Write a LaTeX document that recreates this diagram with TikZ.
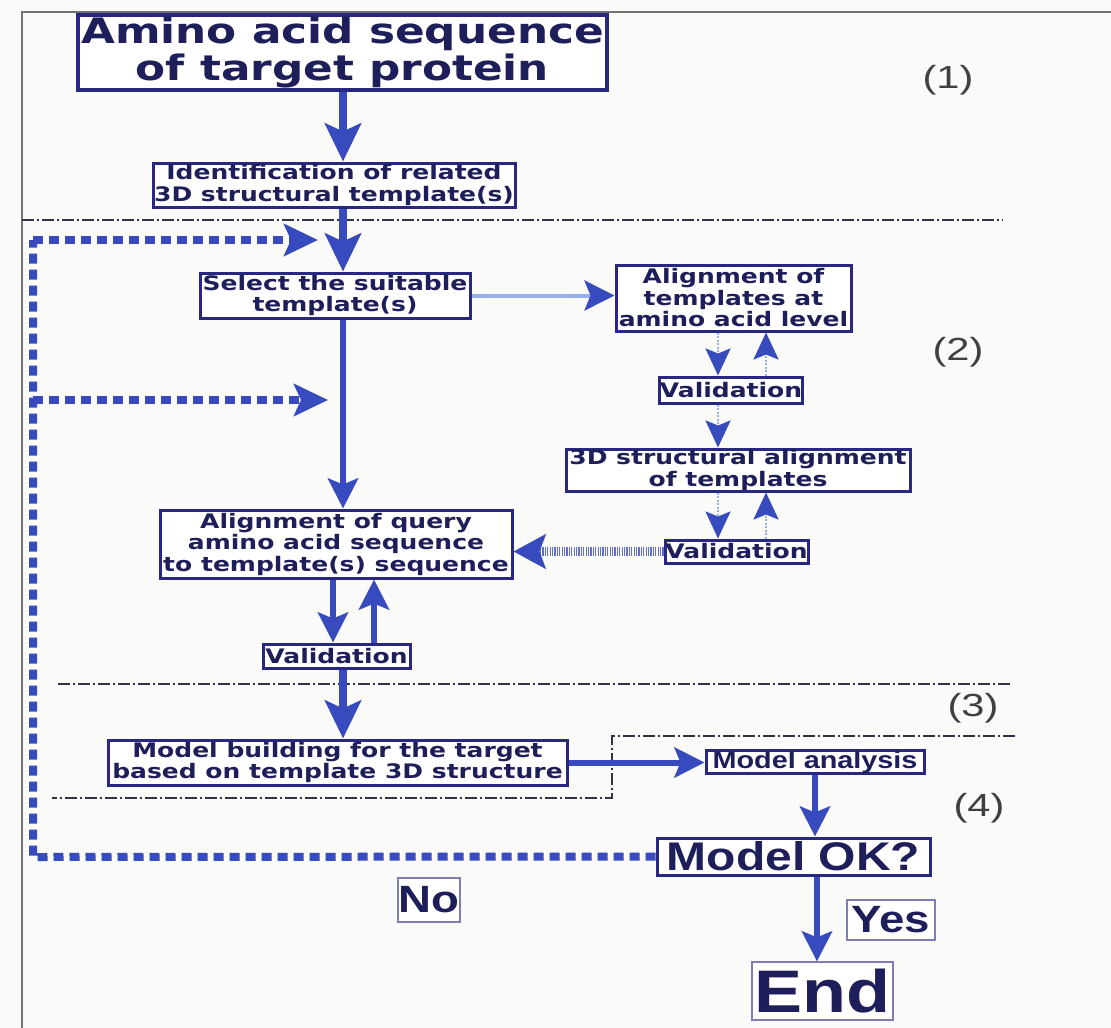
\documentclass[tikz,border=0pt]{standalone}
\usepackage{fontspec}
\setmainfont{DejaVu Sans}
\newfontfamily\bfw[FakeStretch=1.25]{DejaVu Sans}
\newfontfamily\narrow[FakeStretch=1.2]{Liberation Sans}
\newfontfamily\labfont[FakeStretch=1.3]{Liberation Sans}
\usetikzlibrary{arrows.meta}
\definecolor{boxc}{RGB}{40,40,130}
\definecolor{txtc}{RGB}{30,30,90}
\definecolor{arr}{RGB}{55,75,190}
\definecolor{lightarr}{RGB}{150,175,235}
\definecolor{secc}{RGB}{50,50,70}
\definecolor{bgc}{RGB}{250,250,248}
\tikzset{
  box/.style={draw=boxc, line width=3pt, fill=white, inner sep=0pt, align=center, text=txtc,
    font=\bfw\bfseries\fontsize{20}{21.5}\selectfont},
  bigbox/.style={box, line width=4pt, font=\bfw\bfseries\fontsize{35}{37}\selectfont},
  nbox/.style={draw=boxc, line width=3pt, fill=white, inner sep=0pt, text=txtc,
    font=\narrow\bfseries\fontsize{24}{24}\selectfont},
  thinbox/.style={draw=boxc!60, line width=1.2pt, fill=white, inner sep=0pt, text=txtc,
    font=\narrow\bfseries\fontsize{38}{38}\selectfont},
  bigarr/.style={draw=arr, line width=8pt, -{Stealth[length=38pt,width=36pt,inset=8pt]}},
  medarr/.style={draw=arr, line width=6pt, -{Stealth[length=30pt,width=30pt,inset=6pt]}},
  smallarr/.style={draw=lightarr, line width=2.5pt, dash pattern=on 2pt off 1.5pt,
    -{Stealth[length=27pt,width=25pt,inset=5pt,color=arr]}},
  lightlong/.style={draw=lightarr, line width=4pt,
    -{Stealth[length=30pt,width=30pt,inset=6pt,color=arr]}},
  hatcharr/.style={draw=arr!80, line width=9pt, dash pattern=on 1.2pt off 1.2pt,
    -{Stealth[length=32pt,width=34pt,inset=6pt,color=arr]}},
  fb/.style={draw=arr, line width=8pt, dash pattern=on 10pt off 6pt},
  fbarr/.style={fb, -{Stealth[length=34pt,width=32pt,inset=7pt]}},
  secline/.style={draw=secc, line width=1.8pt, dash pattern=on 12pt off 3pt on 2pt off 3pt},
  lab/.style={font=\labfont\fontsize{32}{32}\selectfont, text=black!75, inner sep=0pt}
}
\begin{document}
\begin{tikzpicture}[x=1pt,y=-1pt]
\useasboundingbox (0,0) rectangle (1111,1028);
\fill[bgc] (0,0) rectangle (1111,1028);
\draw[black!55, line width=1.5pt] (22,1028) -- (22,12) -- (1111,12);

% section lines
\coordinate (s1a) at (22,220); \coordinate (s1b) at (1003,220);
\coordinate (s2a) at (58,684); \coordinate (s2b) at (1010,684);
\coordinate (s3a) at (1015,736); \coordinate (s3b) at (612,736);
\coordinate (s3c) at (612,798); \coordinate (s3d) at (52,798);
\draw[secline] (s1a) -- (s1b);
\draw[secline] (s2a) -- (s2b);
\draw[secline] (s3a) -- (s3b) -- (s3c) -- (s3d);

% nodes
\node[bigbox, minimum width=529pt, minimum height=75pt] (title) at (342.5,52.5)
  {Amino acid sequence\\of target protein};
\node[box, minimum width=362pt, minimum height=44pt] (ident) at (334,185)
  {Identification of related\\3D structural template(s)};
\node[box, minimum width=270pt, minimum height=45pt] (select) at (335,295.5)
  {Select the suitable\\template(s)};
\node[box, minimum width=235pt, minimum height=66pt] (alt) at (733.5,298)
  {Alignment of\\templates at\\amino acid level};
\node[box, minimum width=142pt, minimum height=26pt] (val1) at (731,390) {Validation};
\node[box, minimum width=344pt, minimum height=42pt] (s3d) at (738,470)
  {3D structural alignment\\of templates};
\node[box, minimum width=143pt, minimum height=23pt] (val2) at (736.5,551.5) {Validation};
\node[box, minimum width=352pt, minimum height=68pt] (query) at (336,544)
  {Alignment of query\\amino acid sequence\\to template(s) sequence};
\node[box, minimum width=147pt, minimum height=24pt] (val3) at (336.5,656) {Validation};
\node[box, minimum width=459pt, minimum height=45pt] (mb) at (337.5,762.5)
  {Model building for the target\\based on template 3D structure};
\node[nbox, minimum width=218pt, minimum height=22pt] (ma) at (815,762) {Model analysis};
\node[nbox, font=\narrow\bfseries\fontsize{40}{40}\selectfont, minimum width=273pt, minimum height=37pt] (ok) at (793.5,856.5) {Model OK?};
\node[thinbox, minimum width=62pt, minimum height=44pt] (no) at (429,900) {No};
\node[thinbox, minimum width=88pt, minimum height=40pt] (yes) at (891,920) {Yes};
\node[thinbox, font=\narrow\bfseries\fontsize{60}{60}\selectfont, minimum width=141pt, minimum height=58pt] (end) at (822.5,991) {End};

\node[lab] (l1) at (948,80) {(1)};
\node[lab] (l2) at (958,352) {(2)};
\node[lab] (l3) at (973,708) {(3)};
\node[lab] (l4) at (979,808) {(4)};

% column coordinates
\coordinate (mx) at (343,0);
\coordinate (c1) at (718,0);
\coordinate (c2) at (766,0);
\coordinate (q1) at (333,0);
\coordinate (q2) at (374,0);
\coordinate (ex) at (817,0);
\coordinate (mx2) at (815,0);

% main arrows
\draw[bigarr] (title.south -| mx) -- (ident.north -| mx);
\draw[bigarr] (ident.south -| mx) -- (select.north -| mx);
\draw[medarr] (select.south -| mx) -- (query.north -| mx);
\draw[lightlong] (select.east) -- (select.east -| alt.west);
\draw[smallarr] (alt.south -| c1) -- (val1.north -| c1);
\draw[smallarr] (val1.north -| c2) -- (alt.south -| c2);
\draw[smallarr] (val1.south -| c1) -- (s3d.north -| c1);
\draw[smallarr] (s3d.south -| c1) -- (val2.north -| c1);
\draw[smallarr] (val2.north -| c2) -- (s3d.south -| c2);
\draw[hatcharr] (val2.west) -- (val2.west -| query.east);
\draw[medarr] (query.south -| q1) -- (val3.north -| q1);
\draw[medarr] (val3.north -| q2) -- (query.south -| q2);
\draw[bigarr] (val3.south -| mx) -- (mb.north -| mx);
\draw[medarr] (mb.east) -- (mb.east -| ma.west);
\draw[medarr] (ma.south -| mx2) -- (ok.north -| mx2);
\draw[medarr] (ok.south -| ex) -- (end.north -| ex);

% feedback loop
\coordinate (fbL) at (33,857);
\coordinate (fbT) at (33,240);
\coordinate (fbTe) at (318,240);
\coordinate (fbM) at (33,400);
\coordinate (fbMe) at (328,400);
\draw[fb] (ok.west) -- (fbL) -- (fbT);
\draw[fbarr] (fbT) -- (fbTe);
\draw[fbarr] (fbM) -- (fbMe);
\end{tikzpicture}
\end{document}
